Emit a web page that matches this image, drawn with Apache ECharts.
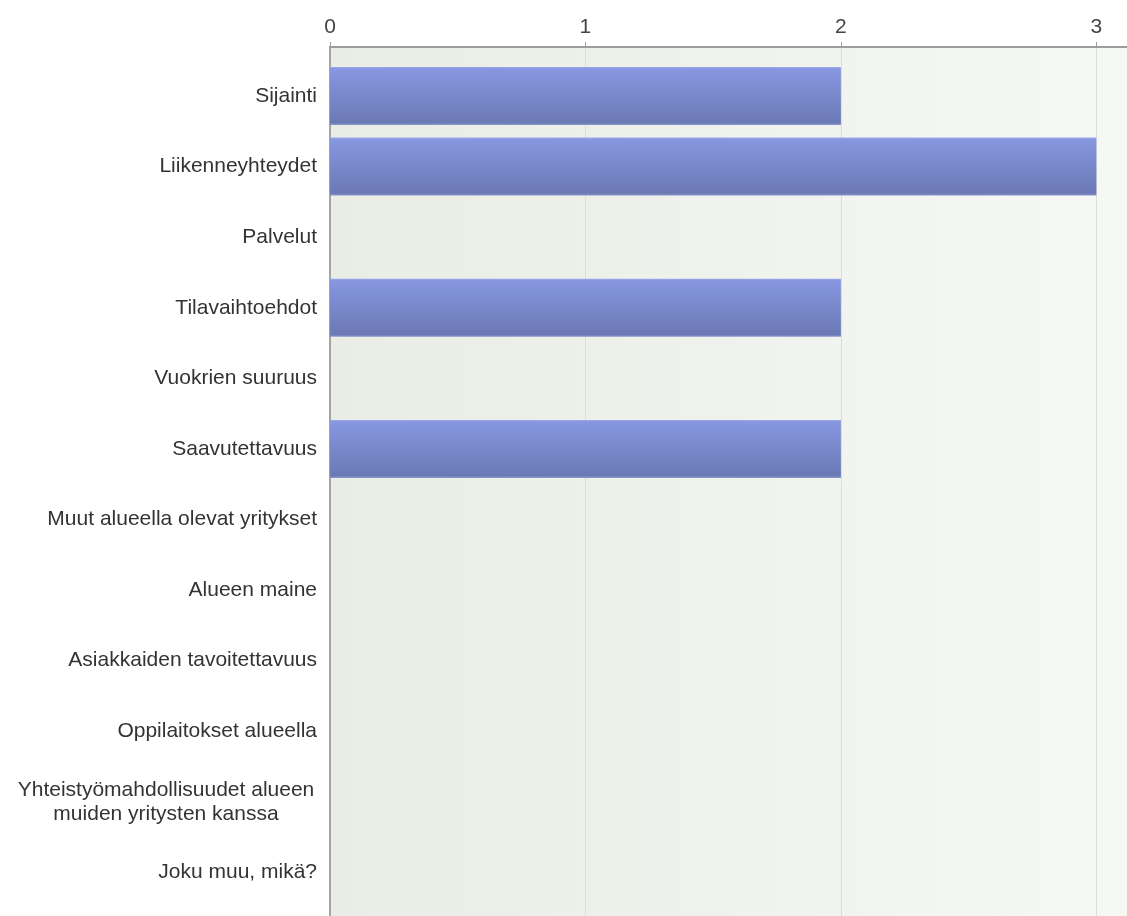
<!DOCTYPE html>
<html>
<head>
<meta charset="utf-8">
<style>
html,body{margin:0;padding:0;background:#fff;}
#chart{width:1127px;height:916px;}
</style>
<script src="https://cdn.jsdelivr.net/npm/echarts@6/dist/echarts.min.js"></script>
</head>
<body>
<div id="chart"></div>
<script>
const categories = [
  'Sijainti',
  'Liikenneyhteydet',
  'Palvelut',
  'Tilavaihtoehdot',
  'Vuokrien suuruus',
  'Saavutettavuus',
  'Muut alueella olevat yritykset',
  'Alueen maine',
  'Asiakkaiden tavoitettavuus',
  'Oppilaitokset alueella',
  'Yhteistyömahdollisuudet alueen\nmuiden yritysten kanssa',
  'Joku muu, mikä?'
];
const values = [2, 3, 0, 2, 0, 2, 0, 0, 0, 0, 0, 0];
const tickLabels = ['0', '1', '2', '3'];

const chart = echarts.init(document.getElementById('chart'));
const font = '"Liberation Sans", Arial, sans-serif';
const xMax = 3.12;

chart.setOption({
  animation: false,
  grid: [
    { left: 330, right: 0, top: 60.7, bottom: 8.3, containLabel: false },
    { left: 330, right: 0, top: 47, bottom: 0, containLabel: false,
      show: true, borderWidth: 0,
      backgroundColor: new echarts.graphic.LinearGradient(0, 0, 1, 0, [
        { offset: 0, color: '#e9ede5' },
        { offset: 1, color: '#f6f8f4' }
      ]) }
  ],
  xAxis: [
    { type: 'value', gridIndex: 0, min: 0, max: xMax, interval: 1, show: false },
    { type: 'value', gridIndex: 1, min: 0, max: xMax, interval: 1, position: 'top',
      axisLine: { show: true, onZero: false, lineStyle: { color: '#9c9c9c', width: 2 } },
      axisTick: { show: true, length: 5, lineStyle: { color: '#9c9c9c', width: 1 } },
      axisLabel: { show: true, margin: 9, color: '#444', fontSize: 21, fontFamily: font,
        showMaxLabel: false,
        formatter: function (v) { return Number.isInteger(v) ? tickLabels[v] : ''; } },
      splitLine: { show: true, lineStyle: { color: '#dcdcdc', width: 1 } }
    }
  ],
  yAxis: [
    { type: 'category', gridIndex: 0, data: categories, inverse: true,
      axisLine: { show: false }, axisTick: { show: false },
      axisLabel: { margin: 13, color: '#333', fontSize: 21, fontFamily: font, lineHeight: 24,
        formatter: function (v) {
          if (v.indexOf('\n') >= 0) {
            return v.split('\n').map(function (s) { return '{c|' + s + '}'; }).join('\n');
          }
          return v;
        },
        rich: { c: { width: 302, align: 'center', fontSize: 21, fontFamily: font, color: '#333', lineHeight: 24 } }
      }
    },
    { type: 'value', gridIndex: 1, min: 0, max: 1,
      axisLine: { show: true, onZero: false, lineStyle: { color: '#a4a4a4', width: 2 } },
      axisTick: { show: false }, axisLabel: { show: false }, splitLine: { show: false }
    }
  ],
  series: [{
    type: 'bar',
    xAxisIndex: 0, yAxisIndex: 0,
    data: values,
    barWidth: 58,
    itemStyle: {
      color: new echarts.graphic.LinearGradient(0, 0, 0, 1, [
        { offset: 0, color: '#9eabea' },
        { offset: 0.03, color: '#8797e0' },
        { offset: 0.96, color: '#6b79b5' },
        { offset: 1, color: '#8c98cc' }
      ])
    },
    z: 3
  }]
});
</script>
</body>
</html>
